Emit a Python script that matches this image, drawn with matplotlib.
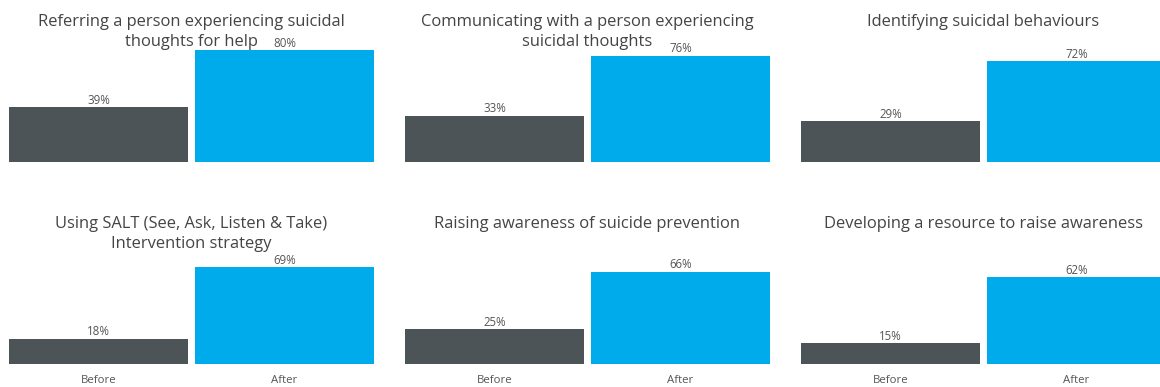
import matplotlib
matplotlib.use("Agg")
import matplotlib.pyplot as plt

titles = [
    "Referring a person experiencing suicidal\nthoughts for help",
    "Communicating with a person experiencing\nsuicidal thoughts",
    "Identifying suicidal behaviours",
    "Using SALT (See, Ask, Listen & Take)\nIntervention strategy",
    "Raising awareness of suicide prevention",
    "Developing a resource to raise awareness",
]
categories = ["Before", "After"]
before = [39, 33, 29, 18, 25, 15]
after = [80, 76, 72, 69, 66, 62]

W, H = 1160, 387
plt.rcParams['font.family'] = ['Open Sans', 'DejaVu Sans']
fig = plt.figure(figsize=(W / 100, H / 100), dpi=100)

dark = "#4D5457"
blue = "#00ABEB"
lefts = [5.5, 401.5, 797.5]
width = 372
baselines = [162, 364]
height = 140  # pixels for 0..100

for i in range(6):
    r, c = divmod(i, 3)
    x0 = lefts[c]
    y0 = baselines[r]
    ax = fig.add_axes([x0 / W, (H - y0) / H, width / W, height / H])
    vals = [before[i], after[i]]
    bars = ax.bar(range(2), vals, width=0.957, color=[dark, blue], clip_on=False)
    ax.set_xlim(-0.5, 1.5)
    ax.set_ylim(0, 100)
    for b, v in zip(bars, vals):
        ax.annotate(f"{v}%", (b.get_x() + b.get_width() / 2, v), xytext=(0, 0.3),
                    textcoords="offset points", ha="center", va="bottom",
                    fontsize=8.3, color="#555555")
    for s in ax.spines.values():
        s.set_visible(False)
    ax.set_yticks([])
    if r == 1:
        ax.set_xticks(range(2))
        ax.set_xticklabels(categories, fontsize=8.2, color="#555555")
        ax.tick_params(axis="x", length=0, pad=8)
    else:
        ax.set_xticks([])
    ty = baselines[r] - height - 8
    fig.text((x0 + width / 2) / W, (H - ty) / H, titles[i], ha="center", va="top",
             fontsize=11.9, color="#444444", linespacing=1.32)

fig.savefig("out.png", dpi=100)
